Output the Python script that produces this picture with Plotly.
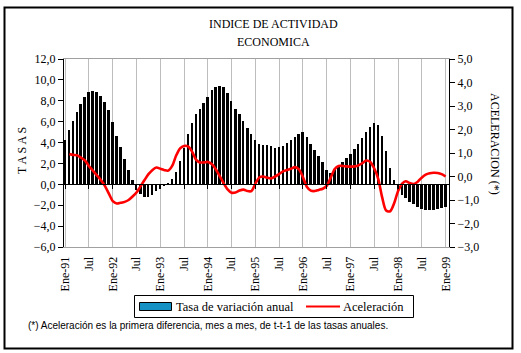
import pandas as pd
import plotly.graph_objects as go

# ---------------- data ----------------
months = pd.date_range("1991-01-01", periods=97, freq="MS")

tasa = [4.2, 5.2, 6.1, 6.9, 7.7, 8.4, 8.8, 8.9, 8.8, 8.5, 7.9, 7.1,
        6.0, 4.6, 3.6, 2.4, 1.4, 0.4, -0.5, -0.9, -1.2, -1.2, -1.0, -0.6,
        -0.4, -0.1, 0.1, 0.5, 1.2, 2.2, 3.5, 4.8, 5.9, 6.7, 7.2, 7.8,
        8.4, 9.0, 9.3, 9.4, 9.3, 8.7, 8.0, 7.2, 6.7, 6.1, 5.4, 4.8,
        4.2, 3.9, 3.8, 3.8, 3.7, 3.5, 3.6, 3.7, 4.0, 4.2, 4.5, 4.8,
        5.0, 4.5, 3.9, 3.3, 2.7, 2.1, 1.4, 1.1, 1.5, 1.8, 2.1, 2.5,
        2.9, 3.4, 3.9, 4.4, 5.0, 5.5, 5.9, 5.7, 4.6, 3.2, 1.6, 0.4,
        -0.6, -1.0, -1.3, -1.7, -1.9, -2.2, -2.4, -2.5, -2.5, -2.5, -2.4, -2.3,
        -2.2]

aceleracion = [None, 0.96, 0.92, 0.90, 0.80, 0.68, 0.45, 0.25, 0.05, -0.15, -0.40, -0.72,
               -1.05, -1.15, -1.12, -1.08, -1.00, -0.85, -0.68, -0.42, -0.15, 0.10, 0.28, 0.38,
               0.33, 0.27, 0.25, 0.45, 0.88, 1.20, 1.30, 1.28, 1.06, 0.72, 0.60, 0.60,
               0.62, 0.52, 0.32, 0.02, -0.28, -0.55, -0.69, -0.68, -0.60, -0.56, -0.62, -0.62,
               -0.30, -0.03, 0.00, -0.05, -0.08, 0.00, 0.10, 0.22, 0.28, 0.33, 0.40, 0.30,
               -0.03, -0.45, -0.60, -0.62, -0.57, -0.52, -0.40, -0.05, 0.32, 0.45, 0.45, 0.43,
               0.42, 0.43, 0.47, 0.57, 0.68, 0.62, 0.35, -0.10, -0.90, -1.45, -1.48, -1.15,
               -0.62, -0.30, -0.20, -0.28, -0.32, -0.22, -0.05, 0.08, 0.14, 0.16, 0.15, 0.10,
               0.00]

tick_dates = pd.date_range("1991-01-01", "1999-01-01", freq="6MS")
tick_text = ["Ene-91", "Jul", "Ene-92", "Jul", "Ene-93", "Jul", "Ene-94", "Jul",
             "Ene-95", "Jul", "Ene-96", "Jul", "Ene-97", "Jul", "Ene-98", "Jul", "Ene-99"]

left_ticks = [-6, -4, -2, 0, 2, 4, 6, 8, 10, 12]
right_ticks = [-3, -2, -1, 0, 1, 2, 3, 4, 5]

series_names = ["Tasa de variación anual", "Aceleración"]

assert len(tasa) == 97 and len(aceleracion) == 97

# ---------------- geometry helpers ----------------
W, H = 521, 353
PL, PR, PT, PB = 64, 449, 59, 247  # plot area in pixels


def px(x):
    return (x - PL) / (PR - PL)


def py(y):
    return (PB - y) / (PB - PT)


SERIF = "Liberation Serif"
SANS = "Liberation Sans"
BAR_COLOR = "black"
SWATCH_BLUE = "#1591c4"
LINE_RED = "#ff0000"

fig = go.Figure()

fig.add_trace(go.Bar(
    x=months, y=tasa, name=series_names[0],
    marker=dict(color=BAR_COLOR, line=dict(width=0)),
    width=15 * 86400000, showlegend=False, yaxis="y", xaxis="x"))

fig.add_trace(go.Scatter(
    x=months, y=aceleracion, name=series_names[1], yaxis="y2",
    mode="lines", line=dict(color=LINE_RED, width=2.6, shape="spline", smoothing=0.8),
    connectgaps=False, showlegend=False))

# helper trace so the zero-crossing axis is drawn
fig.add_trace(go.Scatter(x=[None], y=[None], xaxis="x2", yaxis="y",
                         showlegend=False, hoverinfo="skip"))

xr = ["1990-12-22", "1999-01-27"]

fig.update_layout(
    width=W, height=H,
    margin=dict(l=PL, r=W - PR, t=PT, b=H - PB, pad=0),
    paper_bgcolor="white", plot_bgcolor="white",
    separators=",.",
    bargap=0,
    showlegend=False,
    font=dict(family=SERIF, size=12, color="black"),
    xaxis=dict(
        type="date", range=xr, tickvals=tick_dates, ticktext=tick_text,
        tickangle=-90, showgrid=True, gridcolor="#bdbdbd", gridwidth=1,
        showline=True, linecolor="#a0a0a0", linewidth=1, mirror=True,
        ticks="", ticklabelstandoff=4,
        tickfont=dict(family=SERIF, size=12, color="black"), zeroline=False),
    xaxis2=dict(
        type="date", range=xr, overlaying="x", anchor="free", position=1 / 3,
        tickvals=tick_dates, showticklabels=False, showgrid=False,
        showline=True, linecolor="black", linewidth=1,
        ticks="outside", ticklen=4, tickcolor="black", zeroline=False),
    yaxis=dict(
        range=[-6, 12], tickvals=left_ticks, tickformat=".1f",
        showgrid=False, zeroline=False,
        showline=True, linecolor="black", linewidth=1,
        ticks="outside", ticklen=5, tickcolor="black",
        tickfont=dict(family=SERIF, size=12, color="black")),
    yaxis2=dict(
        range=[-3, 5], tickvals=right_ticks, tickformat=".1f",
        overlaying="y", side="right", showgrid=False, zeroline=False,
        showline=True, linecolor="black", linewidth=1,
        ticks="outside", ticklen=5, tickcolor="black",
        tickfont=dict(family=SERIF, size=12, color="black")),
)

annos = [
    dict(text="INDICE DE ACTIVIDAD", x=px(273), y=py(24), size=12, family=SERIF, angle=0),
    dict(text="ECONOMICA", x=px(273), y=py(42), size=12, family=SERIF, angle=0),
    dict(text="T A S A S", x=px(22), y=py(151), size=12, family=SERIF, angle=-90),
    dict(text="ACELERACION (*)", x=px(495), y=py(144), size=12, family=SERIF, angle=90),
]
for a in annos:
    fig.add_annotation(text=a["text"], x=a["x"], y=a["y"], xref="paper", yref="paper",
                       showarrow=False, textangle=a["angle"], xanchor="center", yanchor="middle",
                       font=dict(family=a["family"], size=a["size"], color="black"))

# ---- custom legend (box, swatches, labels) ----
fig.add_shape(type="rect", xref="paper", yref="paper",
              x0=px(134.5), x1=px(413.5), y0=py(317.5), y1=py(295.5),
              line=dict(color="black", width=1), fillcolor="white", layer="above")
fig.add_shape(type="rect", xref="paper", yref="paper",
              x0=px(139.5), x1=px(171.5), y0=py(310.5), y1=py(302.5),
              line=dict(color="black", width=1), fillcolor=SWATCH_BLUE, layer="above")
fig.add_annotation(text=series_names[0], x=px(174), y=py(306.5), xref="paper", yref="paper",
                   xanchor="left", yanchor="middle", showarrow=False,
                   font=dict(family=SERIF, size=12.5, color="black"))
fig.add_shape(type="line", xref="paper", yref="paper",
              x0=px(306), x1=px(340), y0=py(306.5), y1=py(306.5),
              line=dict(color=LINE_RED, width=2), layer="above")
fig.add_annotation(text=series_names[1], x=px(341), y=py(306.5), xref="paper", yref="paper",
                   xanchor="left", yanchor="middle", showarrow=False,
                   font=dict(family=SERIF, size=12.5, color="black"))

fig.add_annotation(
    text="(*) Aceleración es la primera diferencia, mes a mes, de t-t-1 de las tasas anuales.",
    x=px(26), y=py(325), xref="paper", yref="paper", xanchor="left", yanchor="middle",
    showarrow=False, font=dict(family=SANS, size=10, color="black"))

# outer chart border
fig.add_shape(type="rect", xref="paper", yref="paper",
              x0=px(4.5), x1=px(512.5), y0=py(348.5), y1=py(7.5),
              line=dict(color="black", width=2), fillcolor="rgba(0,0,0,0)", layer="above")

fig.write_html("out.html")
